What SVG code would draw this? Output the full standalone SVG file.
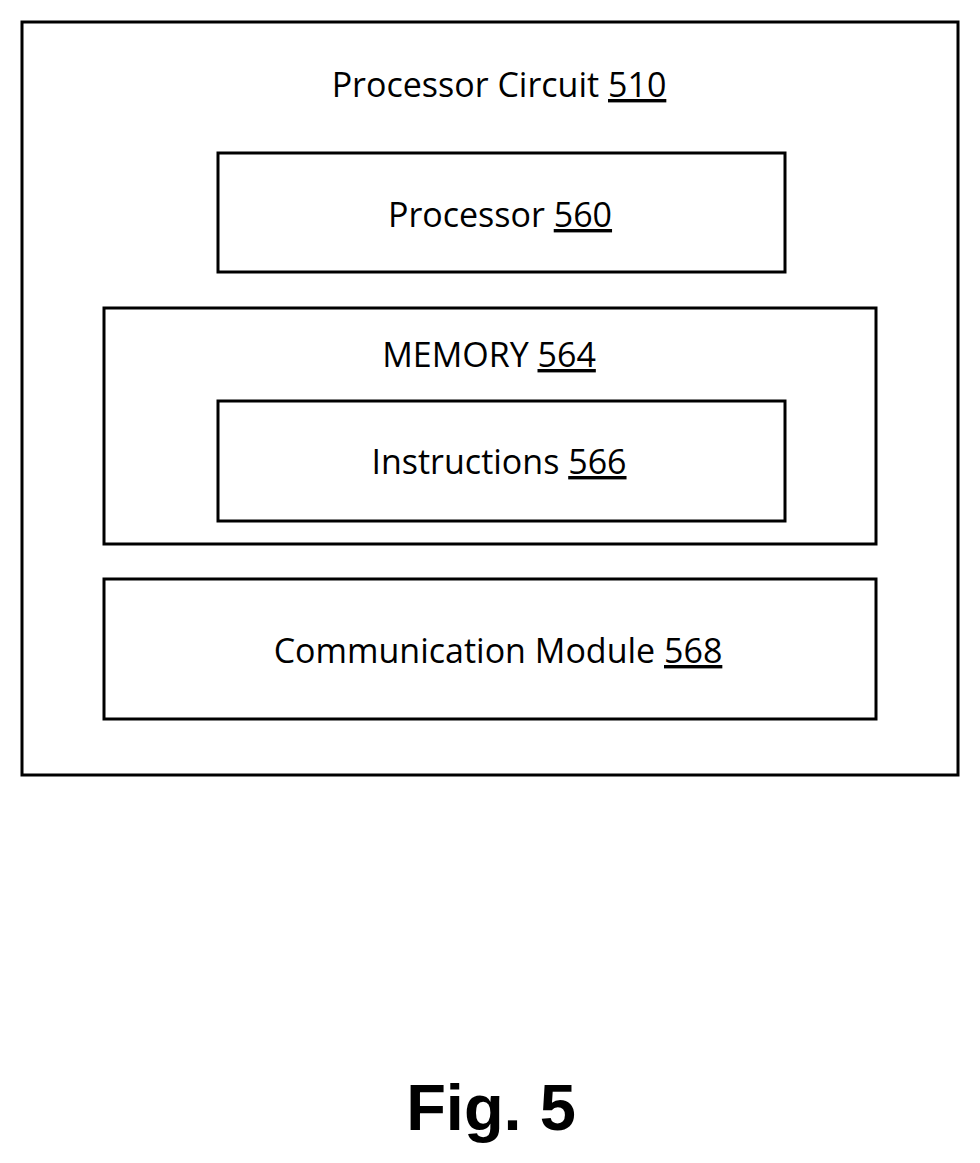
<svg xmlns="http://www.w3.org/2000/svg" width="980" height="1163" viewBox="0 0 980 1163">
<style>
.b{fill:#fff;stroke:#000;stroke-width:3}
.t{font-family:"Open Sans","Liberation Sans",sans-serif;font-size:34px;text-anchor:middle;fill:#000}
</style>
<rect width="980" height="1163" fill="#fff"/>
<g id="circuit"><rect class="b" x="22" y="22" width="936" height="753"/>
<text class="t" x="499" y="97">Processor Circuit <tspan text-decoration="underline">510</tspan></text></g>
<g id="processor"><rect class="b" x="218" y="153" width="567" height="119"/>
<text class="t" x="500" y="227">Processor <tspan text-decoration="underline">560</tspan></text></g>
<g id="memory"><rect class="b" x="104" y="308" width="772" height="236"/>
<text class="t" x="489" y="367">MEMORY <tspan text-decoration="underline">564</tspan></text></g>
<g id="instructions"><rect class="b" x="218" y="401" width="567" height="120"/>
<text class="t" x="499" y="474">Instructions <tspan text-decoration="underline">566</tspan></text></g>
<g id="comm"><rect class="b" x="104" y="579" width="772" height="140"/>
<text class="t" x="498" y="663">Communication Module <tspan text-decoration="underline">568</tspan></text></g>
<g id="connectors"/>
<text x="491" y="1130" font-family="Liberation Sans,Arial,sans-serif" font-weight="bold" font-size="65" text-anchor="middle">Fig. 5</text>
</svg>
